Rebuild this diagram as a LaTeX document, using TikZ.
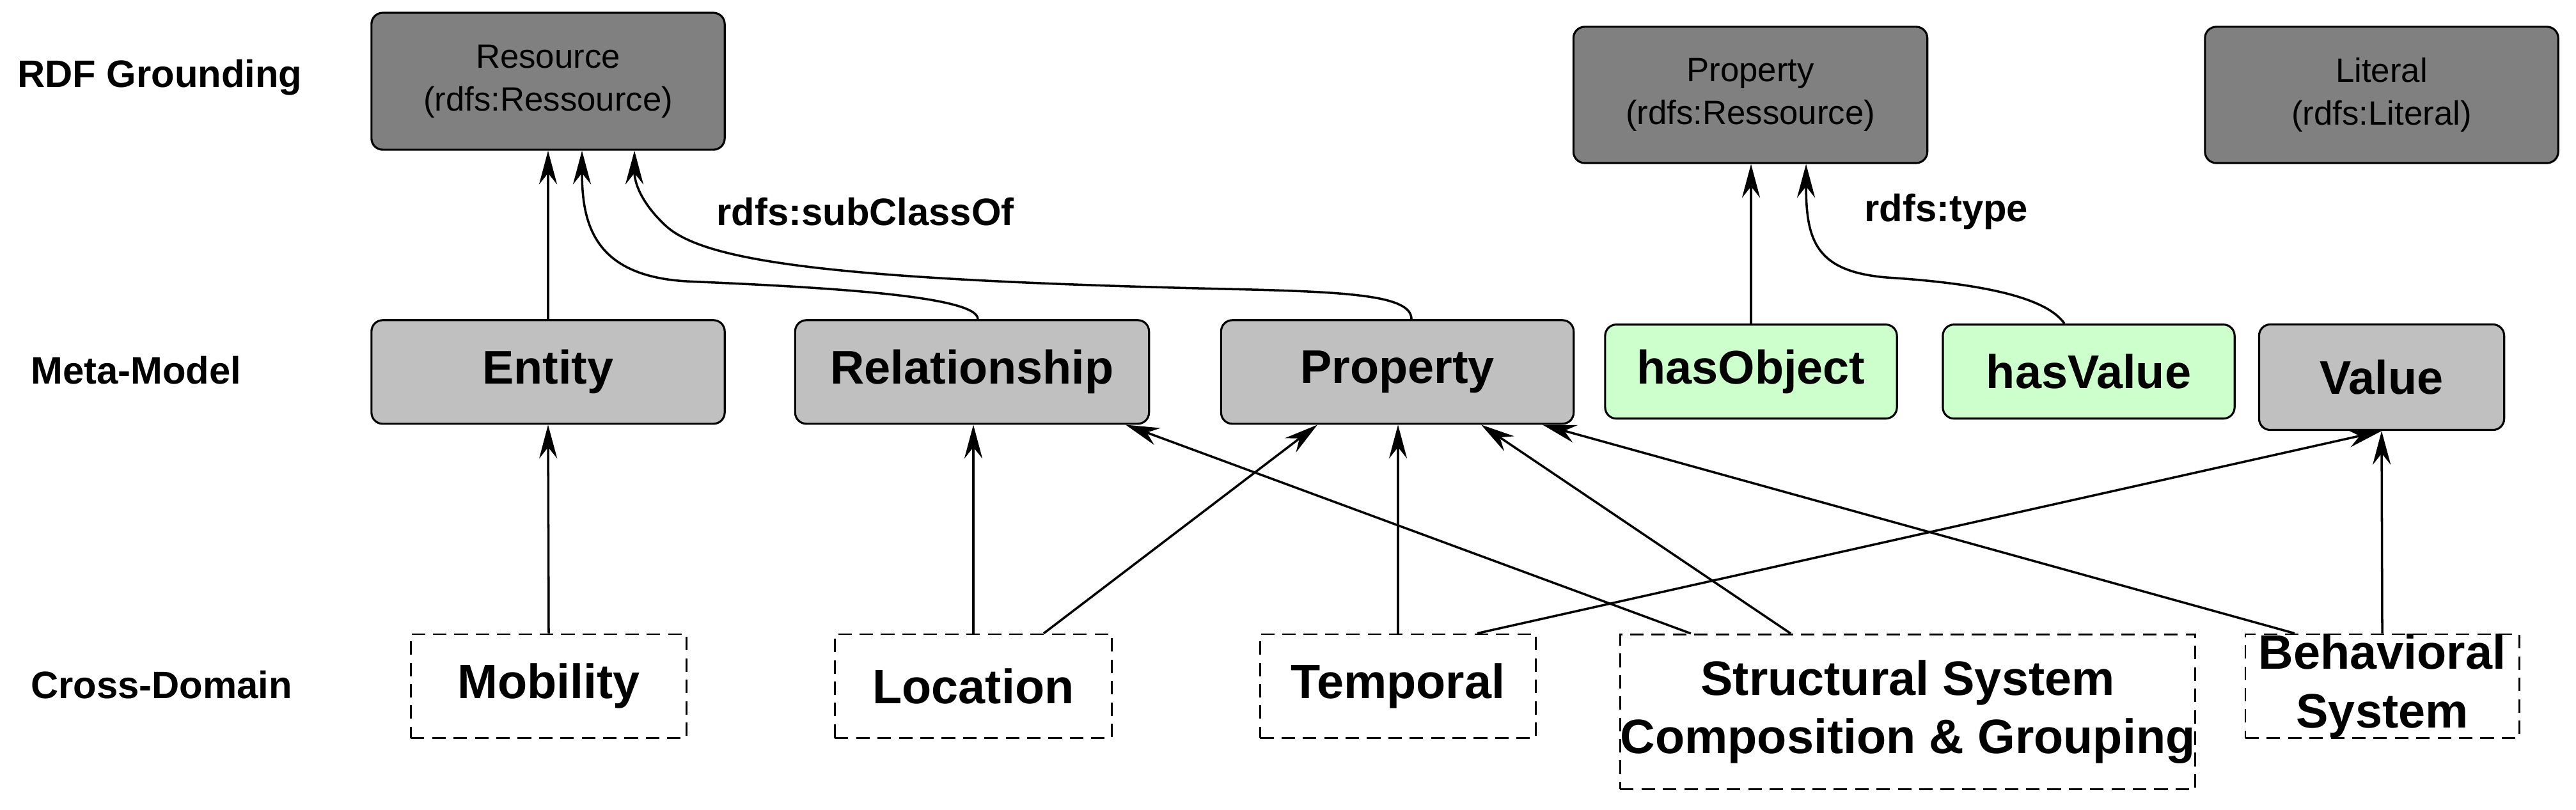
\documentclass[tikz,border=0pt]{standalone}
\usepackage{fontspec}
\setmainfont{Liberation Sans}
\usetikzlibrary{arrows.meta}
\begin{document}
\begin{tikzpicture}[x=0.01cm,y=-0.00629cm,
  box/.style={draw=black,line width=0.9pt,rounded corners=5pt,inner sep=0pt,align=center},
  rdf/.style={box,fill=rdfgray,font=\fontsize{15}{19}\selectfont},
  meta/.style={box,fill=metagray,font=\bfseries\fontsize{21}{25}\selectfont},
  grn/.style={box,fill=lgreen,font=\bfseries\fontsize{21}{25}\selectfont},
  cd/.style={draw=black,line width=0.8pt,dash pattern=on 6pt off 3.5pt,fill=white,inner sep=0pt,align=center,font=\bfseries\fontsize{21.5}{26}\selectfont},
  lab/.style={font=\bfseries\fontsize{17}{20}\selectfont,anchor=west},
  arr/.style={line width=1pt,-{Stealth[length=15pt,width=8pt,inset=5pt]}}]
\definecolor{rdfgray}{HTML}{808080}
\definecolor{metagray}{HTML}{C0C0C0}
\definecolor{lgreen}{HTML}{CCFFCC}
\useasboundingbox[fill=white] (0,0) rectangle (4028,2014);
% row labels
\node[lab] (l1) at (15,193) {RDF Grounding};
\node[lab] (l2) at (36,921) {Meta-Model};
\node[lab] (l3) at (36,1703) {Cross-Domain};
% RDF row
\node[rdf,minimum width=5.52cm,minimum height=2.14cm] (res) at (857,202) {Resource\\(rdfs:Ressource)};
\node[rdf,minimum width=5.53cm,minimum height=2.13cm] (propr) at (2737,236) {Property\\(rdfs:Ressource)};
\node[rdf,minimum width=5.52cm,minimum height=2.13cm] (lit) at (3724,236) {Literal\\(rdfs:Literal)};
% meta row
\node[meta,minimum width=5.52cm,minimum height=1.62cm] (ent) at (857,925) {Entity};
\node[meta,minimum width=5.53cm,minimum height=1.62cm] (rel) at (1520,925) {Relationship};
\node[meta,minimum width=5.51cm,minimum height=1.62cm] (propm) at (2185,925) {Property};
\node[grn,minimum width=4.56cm,minimum height=1.47cm] (hobj) at (2738,924) {hasObject};
\node[grn,minimum width=4.56cm,minimum height=1.47cm] (hval) at (3266,924) {hasValue};
\node[meta,minimum width=3.83cm,minimum height=1.65cm] (val) at (3724,938) {Value};
% cross-domain row
\node[cd,minimum width=4.31cm,minimum height=1.62cm] (mob) at (858,1706) {Mobility};
\node[cd,minimum width=4.33cm,minimum height=1.62cm] (loc) at (1522,1706) {Location};
\node[cd,minimum width=4.31cm,minimum height=1.62cm] (tem) at (2186,1706) {Temporal};
\node[cd,minimum width=8.99cm,minimum height=2.42cm] (str) at (2983,1770) {Structural System\\Composition \& Grouping};
\node[cd,minimum width=4.28cm,minimum height=1.62cm] (beh) at (3725,1706) {Behavioral\\System};
% edge labels
\node[lab] (sc) at (1108,527) {rdfs:subClassOf};
\node[lab] (ty) at (2903,527) {rdfs:type};
% upper arrows
\draw[arr] (ent.north) -- (res.south);
\draw[arr] ([xshift=0.09cm]rel.north) .. controls +(0,-57) and (1300,715) .. (1080,700) .. controls (930,690) and (910,560) .. ([xshift=0.53cm]res.south);
\draw[arr] ([xshift=0.22cm]propm.north) .. controls +(0,-62) and (2100,725) .. (1900,718) .. controls (1300,695) and (1100,650) .. (1040,560) .. controls (1000,500) and (992,450) .. ([xshift=1.35cm]res.south);
\draw[arr] (hobj.north) -- (hobj.north |- propr.south);
\draw[arr] ([xshift=-0.38cm]hval.north) .. controls (3200,740) and (3100,705) .. (2950,690) .. controls (2840,675) and (2824,600) .. ([xshift=0.87cm]propr.south);
% lower arrows
\draw[arr] (mob.north) -- (ent.south);
\draw[arr] (loc.north) -- (loc.north |- rel.south);
\draw[arr] ([xshift=1.10cm]loc.north) -- ([xshift=-1.25cm]propm.south);
\draw[arr] (tem.north) -- (tem.north |- propm.south);
\draw[arr] ([xshift=1.24cm]tem.north) -- (val.south);
\draw[arr] ([xshift=-3.39cm]str.north) -- ([xshift=2.40cm]rel.south);
\draw[arr] ([xshift=-1.83cm]str.north) -- ([xshift=1.31cm]propm.south);
\draw[arr] ([xshift=-1.37cm]beh.north) -- ([xshift=2.27cm]propm.south);
\draw[arr] (beh.north) -- (val.south);
\end{tikzpicture}
\end{document}
